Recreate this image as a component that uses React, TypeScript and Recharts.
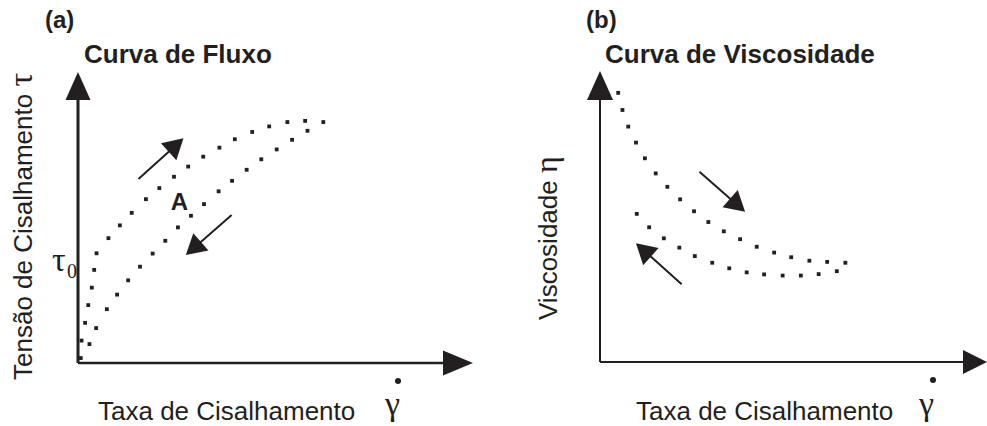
import { ReferenceLine, Scatter, ScatterChart, XAxis, YAxis } from "recharts";

const INK = "#231f20";

// (a) curva de fluxo: tensão x taxa (unidades arbitrárias 0-100)
const flowUp: [number, number][] = [
  [0.7, 1.7], [0.9, 7.7], [1.8, 13.8], [2.6, 19.9], [3.5, 25.9], [4.1, 32.0], [4.7, 37.7],
  [7.7, 42.9], [10.6, 47.3], [13.6, 51.6], [17.2, 56.3], [20.6, 60.1], [24.3, 64.0],
  [27.9, 67.5], [31.7, 70.9], [35.8, 74.0], [39.7, 76.9], [44.1, 79.4], [48.4, 81.3],
  [53.0, 82.8], [57.5, 83.2], [62.1, 82.8],
];
const flowDown: [number, number][] = [
  [2.9, 6.5], [4.6, 12.0], [7.3, 18.5], [9.9, 23.5], [12.7, 28.4], [15.7, 33.1],
  [18.9, 37.6], [22.1, 42.0], [25.3, 46.6], [28.6, 50.6], [31.9, 54.6], [35.6, 59.0],
  [39.0, 62.6], [42.7, 66.4], [46.4, 70.0], [50.3, 73.4], [54.2, 76.7], [58.1, 79.8],
];

// (b) curva de viscosidade
const viscUp: [number, number][] = [
  [4.7, 92.5], [5.8, 86.6], [7.3, 80.9], [9.3, 75.4], [11.6, 70.0], [14.4, 64.8],
  [17.4, 60.2], [20.7, 55.9], [24.3, 51.8], [28.0, 48.1], [32.0, 44.9], [36.2, 42.2],
  [40.5, 39.6], [45.0, 37.6], [49.4, 36.0], [54.1, 34.8], [58.7, 34.4], [63.4, 34.1],
];
const viscDown: [number, number][] = [
  [9.5, 50.9], [12.7, 46.3], [16.5, 42.5], [20.5, 39.3], [24.5, 36.4], [29.0, 34.1],
  [33.4, 32.2], [37.9, 30.8], [42.4, 30.1], [47.2, 29.7], [51.9, 29.7], [56.5, 30.2],
  [61.2, 31.2],
];

// setas indicativas [de, para]
const flowArrows: [number, number][][] = [
  [[15.3, 63.2], [26.7, 77.2]],
  [[38.9, 50.9], [27.3, 37.1]],
];
const viscArrows: [number, number][][] = [
  [[25.7, 65.4], [37.5, 51.6]],
  [[21.1, 26.7], [9.3, 40.8]],
];

const toPts = (arr: [number, number][]) => arr.map(([x, y]) => ({ x, y }));

const dotShape = (p: any) => (
  <rect x={p.cx - 1.9} y={p.cy - 1.9} width={3.8} height={3.8} fill={INK} />
);

// seta desenhada entre os pontos já escalados da ReferenceLine
const arrow = (len: number, half: number, sw: number) => (p: any) => {
  const { x1, y1, x2, y2 } = p;
  const d = Math.hypot(x2 - x1, y2 - y1) || 1;
  const ux = (x2 - x1) / d;
  const uy = (y2 - y1) / d;
  const bx = x2 - ux * len;
  const by = y2 - uy * len;
  const px = -uy * half;
  const py = ux * half;
  return (
    <g>
      <line x1={x1} y1={y1} x2={bx + ux * 2} y2={by + uy * 2} stroke={INK} strokeWidth={sw} />
      <polygon
        points={`${x2},${y2} ${bx + px},${by + py} ${bx - px},${by - py}`}
        fill={INK}
      />
    </g>
  );
};

function Panel({
  up,
  down,
  arrows,
  width,
  margin,
  axisW,
  yHead,
  xHead,
}: {
  up: [number, number][];
  down: [number, number][];
  arrows: [number, number][][];
  width: number;
  margin: { top: number; right: number; bottom: number; left: number };
  axisW: [number, number];
  yHead: [number, number];
  xHead: [number, number];
}) {
  return (
    <ScatterChart width={width} height={426} margin={margin}>
      <XAxis type="number" dataKey="x" domain={[0, 100]} hide />
      <YAxis type="number" dataKey="y" domain={[0, 100]} hide />
      <ReferenceLine
        segment={[{ x: 0, y: 0 }, { x: 0, y: 100 }]}
        ifOverflow="visible"
        shape={arrow(yHead[0], yHead[1], axisW[0])}
      />
      <ReferenceLine
        segment={[{ x: 0, y: 0 }, { x: 100, y: 0 }]}
        ifOverflow="visible"
        shape={arrow(xHead[0], xHead[1], axisW[1])}
      />
      <Scatter data={toPts(up)} shape={dotShape} isAnimationActive={false} />
      <Scatter data={toPts(down)} shape={dotShape} isAnimationActive={false} />
      {arrows.map(([a, b], i) => (
        <ReferenceLine
          key={i}
          segment={[{ x: a[0], y: a[1] }, { x: b[0], y: b[1] }]}
          ifOverflow="visible"
          shape={arrow(20, 11.5, 2)}
        />
      ))}
    </ScatterChart>
  );
}

const sans = { fontFamily: "'Liberation Sans', Arial, sans-serif" };
const serif = { fontFamily: "'Liberation Serif', 'DejaVu Serif', serif" };

export default function App() {
  return (
    <div
      style={{
        position: "absolute",
        left: 0,
        top: 0,
        width: 987,
        height: 426,
        background: "#fff",
        overflow: "hidden",
      }}
    >
      <div style={{ position: "absolute", left: 0, top: 0 }}>
        <Panel
          up={flowUp}
          down={flowDown}
          arrows={flowArrows}
          width={490}
          margin={{ top: 72, right: 17, bottom: 63, left: 78 }}
          axisW={[3, 2.5]}
          yHead={[28, 12.5]}
          xHead={[30, 12.5]}
        />
      </div>
      <div style={{ position: "absolute", left: 490, top: 0 }}>
        <Panel
          up={viscUp}
          down={viscDown}
          arrows={viscArrows}
          width={497}
          margin={{ top: 71, right: 0, bottom: 64, left: 110 }}
          axisW={[2, 2]}
          yHead={[29, 13]}
          xHead={[24, 12]}
        />
      </div>
      <svg
        width={987}
        height={426}
        style={{ position: "absolute", left: 0, top: 0, pointerEvents: "none", ...sans }}
        fill={INK}
      >
        <text x={45} y={28} fontSize={24} fontWeight="bold">(a)</text>
        <text x={84} y={63} fontSize={26} fontWeight="bold">Curva de Fluxo</text>
        <text x={586} y={28} fontSize={24} fontWeight="bold">(b)</text>
        <text x={605} y={63} fontSize={26} fontWeight="bold">Curva de Viscosidade</text>
        <text x={179.5} y={210} fontSize={24} fontWeight="bold" textAnchor="middle">A</text>

        <text transform="translate(32,380) rotate(-90)" fontSize={26}>
          Tensão de Cisalhamento{" "}
          <tspan style={serif} fontSize={34}>τ</tspan>
        </text>
        <text x={52} y={271} style={serif} fontSize={34}>τ</text>
        <text x={67} y={278} style={serif} fontSize={20}>0</text>

        <text x={98} y={420} fontSize={26}>Taxa de Cisalhamento</text>
        <text x={385} y={415} style={serif} fontSize={34}>γ</text>
        <circle cx={398} cy={381} r={3} fill={INK} />

        <text transform="translate(557,320) rotate(-90)" fontSize={26}>
          Viscosidade{" "}
          <tspan style={serif} fontSize={32}>η</tspan>
        </text>

        <text x={636} y={420} fontSize={26}>Taxa de Cisalhamento</text>
        <text x={919} y={415} style={serif} fontSize={34}>γ</text>
        <circle cx={933} cy={380} r={3} fill={INK} />
      </svg>
    </div>
  );
}
